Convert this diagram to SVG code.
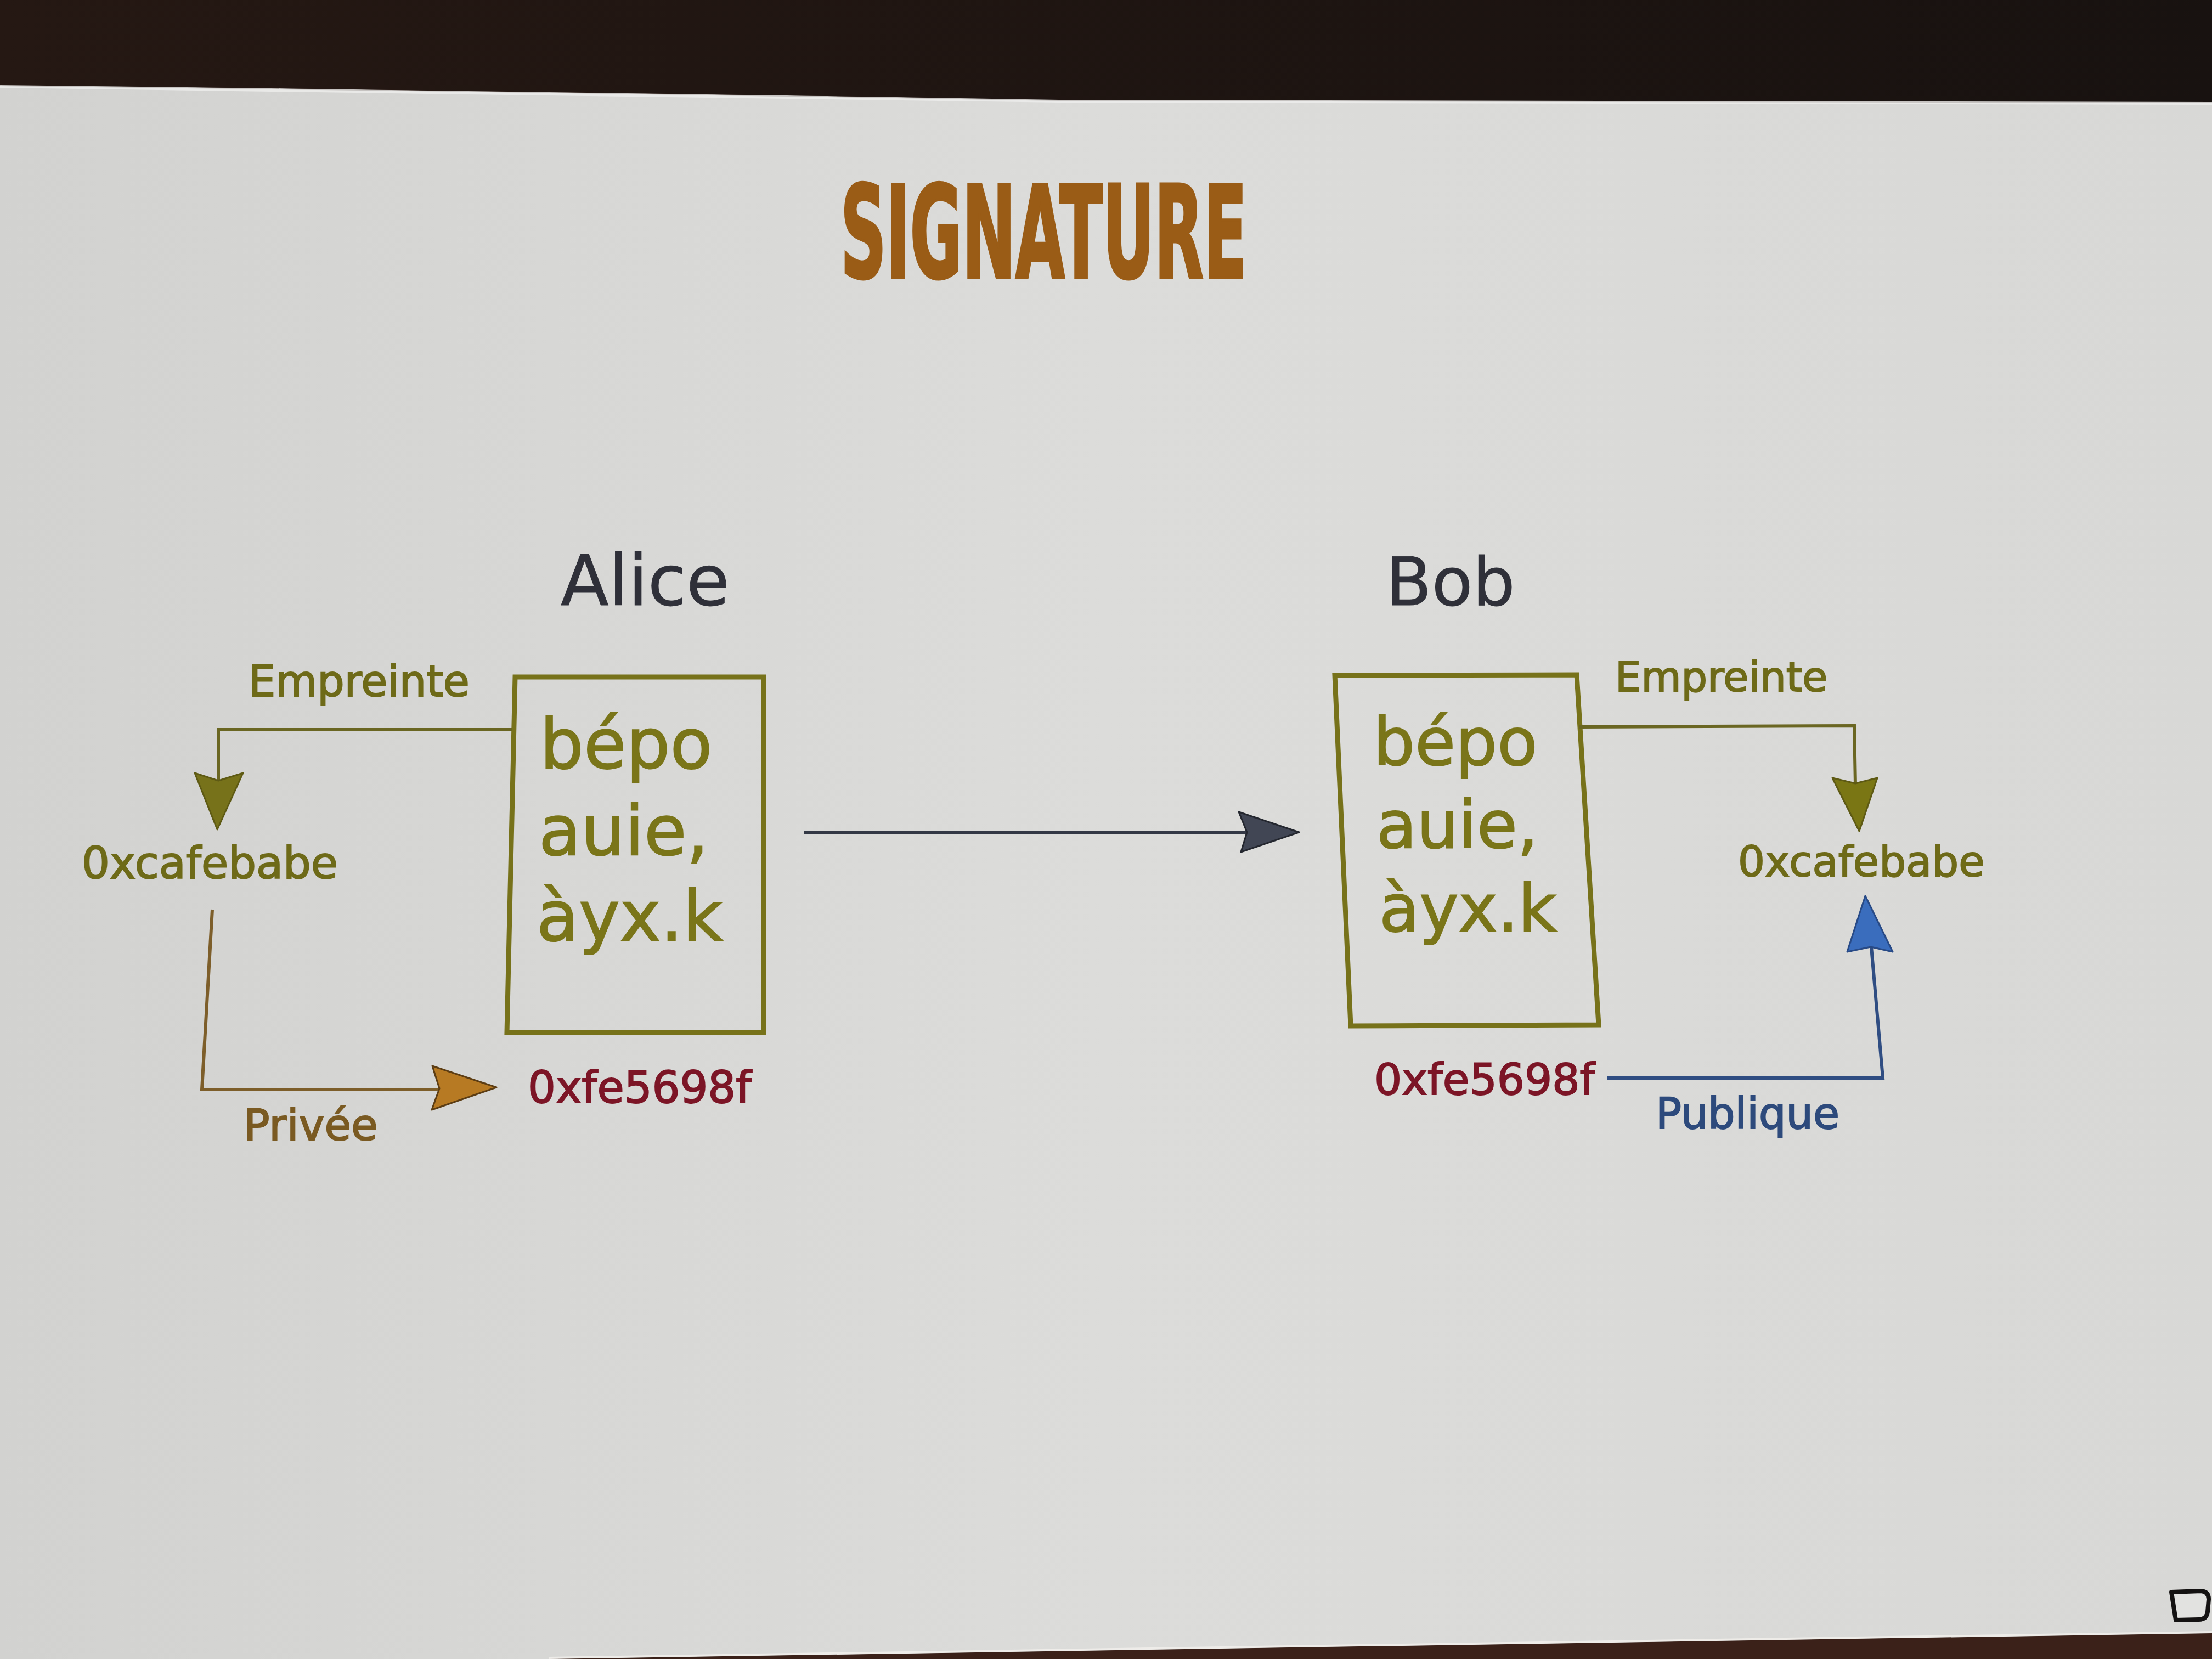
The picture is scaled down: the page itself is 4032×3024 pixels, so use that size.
<svg xmlns="http://www.w3.org/2000/svg" width="4032" height="3024" viewBox="0 0 4032 3024">
  <defs>
    <linearGradient id="slideFill" x1="0" y1="0" x2="1" y2="0">
      <stop offset="0" stop-color="#d2d2d0"/>
      <stop offset="0.5" stop-color="#dcdcda"/>
      <stop offset="1" stop-color="#d8d8d6"/>
    </linearGradient>
    <linearGradient id="topBand" x1="0" y1="0" x2="1" y2="0">
      <stop offset="0" stop-color="#251813"/>
      <stop offset="1" stop-color="#181210"/>
    </linearGradient>
    <style>
      .lbl { font-family: "DejaVu Sans", "Liberation Sans", sans-serif; stroke-width: 2; }
      .olive { fill: #6e6a18; stroke: #6e6a18; }
      .doc { fill: #7a7519; stroke: #7a7519; }
      .red { fill: #7c1526; stroke: #7c1526; }
      .blue { fill: #2d4a7c; stroke: #2d4a7c; }
      .brown { fill: #7a5a22; stroke: #7a5a22; }
      .who { fill: #2f3039; stroke: #2f3039; stroke-width: 1; }
      .frame { fill: none; stroke: #77721a; stroke-width: 9; stroke-linejoin: miter; }
      .wire { fill: none; stroke-width: 6; stroke-linejoin: miter; }
      .head { stroke-width: 3; stroke-linejoin: round; }
    </style>
  </defs>

  <!-- room around the projected slide -->
  <rect x="0" y="0" width="4032" height="3024" fill="#2a1a14"/>

  <!-- projected slide surface -->
  <path d="M0 157 Q1000 168 1930 184 L4032 188 L4032 2977 L1000 3024 L0 3024 Z" fill="url(#slideFill)"/>
  <path d="M0 157 Q1000 168 1930 184 L4032 188" fill="none" stroke="#eeeeec" stroke-width="6" opacity="0.8"/>
  <path d="M0 0 H4032 V186 L1930 182 Q1000 166 0 155 Z" fill="url(#topBand)"/>
  <path d="M1000 3024 L4032 2977 L4032 3024 Z" fill="#3b2119"/>
  <path d="M1000 3022 L4032 2975" fill="none" stroke="#f2f0ec" stroke-width="4" opacity="0.8"/>

  <!-- title -->
  <g id="title">
    <text x="1532" y="506" textLength="741" lengthAdjust="spacingAndGlyphs" font-family="'DejaVu Sans Condensed', 'DejaVu Sans', sans-serif" font-weight="bold" font-stretch="condensed" font-size="233" fill="#9a5c16" stroke="#9a5c16" stroke-width="5">SIGNATURE</text>
  </g>

  <!-- Alice -->
  <g id="alice">
    <text class="lbl who" x="1022" y="1103" font-size="128">Alice</text>
  </g>
  <g id="alice-message">
    <path class="frame" d="M939 1234 L1392 1234 L1392 1882 L924 1882 Z"/>
    <text class="lbl doc" x="984" y="1400" font-size="126">bépo</text>
    <text class="lbl doc" x="982" y="1558" font-size="126">auie,</text>
    <text class="lbl doc" x="978" y="1714" font-size="126">àyx.k</text>
  </g>
  <g id="alice-hash">
    <text class="lbl olive" x="149" y="1601" font-size="80">0xcafebabe</text>
  </g>
  <g id="alice-signature">
    <text class="lbl red" x="962" y="2010" font-size="80">0xfe5698f</text>
  </g>

  <!-- Bob -->
  <g id="bob">
    <text class="lbl who" x="2526" y="1103" font-size="122">Bob</text>
  </g>
  <g id="bob-message">
    <path class="frame" d="M2433 1231 L2874 1230 L2914 1868 L2462 1870 Z"/>
    <text class="lbl doc" x="2503" y="1394" font-size="120">bépo</text>
    <text class="lbl doc" x="2509" y="1545" font-size="120">auie,</text>
    <text class="lbl doc" x="2514" y="1697" font-size="120">àyx.k</text>
  </g>
  <g id="bob-hash">
    <text class="lbl olive" x="3168" y="1597" font-size="77">0xcafebabe</text>
  </g>
  <g id="bob-signature">
    <text class="lbl red" x="2505" y="1995" font-size="79">0xfe5698f</text>
  </g>

  <!-- connectors and their labels -->
  <g id="connectors">
    <!-- Alice: fingerprint of the message -->
    <path class="wire" stroke="#6a6622" d="M934 1330 H398 V1424"/>
    <path class="head" fill="#77721a" stroke="#5e5a14" d="M355 1409 L398 1423 L443 1409 L396 1512 Z"/>
    <text class="lbl olive" x="453" y="1269" font-size="78">Empreinte</text>

    <!-- Alice: signing with the private key -->
    <path class="wire" stroke="#7d5e2a" d="M387 1658 L368 1986 H802"/>
    <path class="head" fill="#b77a23" stroke="#5c3d14" d="M788 1943 L801 1984 L787 2023 L905 1982 Z"/>
    <text class="lbl brown" x="444" y="2078" font-size="79">Privée</text>

    <!-- sending the message to Bob -->
    <path class="wire" stroke="#333845" stroke-width="5" d="M1466 1518 H2274"/>
    <path class="head" fill="#414654" stroke="#24272f" d="M2258 1480 L2273 1517 L2262 1553 L2368 1517 Z"/>

    <!-- Bob: fingerprint of the received message -->
    <path class="wire" stroke="#6a6622" d="M2879 1325 L3380 1323 L3382 1430"/>
    <path class="head" fill="#7a7614" stroke="#5e5a14" d="M3340 1418 L3382 1428 L3422 1418 L3389 1515 Z"/>
    <text class="lbl olive" x="2944" y="1260" font-size="75">Empreinte</text>

    <!-- Bob: checking with the public key -->
    <path class="wire" stroke="#2f4d82" stroke-width="5" d="M2930 1965 H3432 L3411 1726"/>
    <path class="head" fill="#3a6dbd" stroke="#284a86" d="M3367 1735 L3410 1726 L3450 1735 L3400 1633 Z"/>
    <text class="lbl blue" x="3018" y="2057" font-size="78">Publique</text>
  </g>

  <!-- small corner mark -->
  <path d="M3958 2902 L4012 2900 Q4026 2901 4026 2915 L4024 2938 Q4022 2952 4008 2952 L3966 2953 Z" fill="#e2e2e0" stroke="#141212" stroke-width="8" stroke-linejoin="round"/>
</svg>
